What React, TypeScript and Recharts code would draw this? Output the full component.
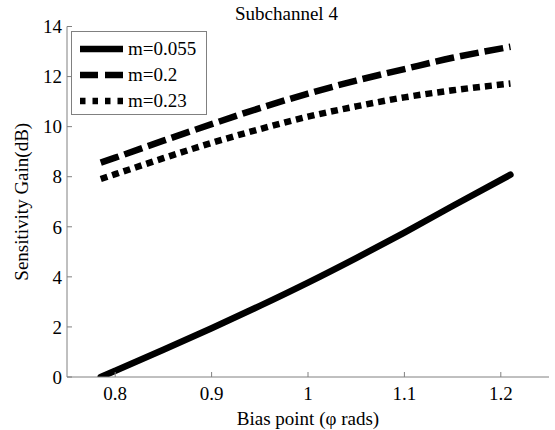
import React from 'react';
import { LineChart, Line, XAxis, YAxis, Legend, Label } from 'recharts';

// Bias point (phi, rad) and sensitivity gain (dB) per modulation index
const bias = [0.785, 0.8, 0.85, 0.9, 0.95, 1.0, 1.05, 1.1, 1.15, 1.21];
const gainM0055 = [0, 0.25, 1.09, 1.95, 2.84, 3.77, 4.75, 5.77, 6.83, 8.08];
const gainM02 = [8.56, 8.76, 9.44, 10.1, 10.74, 11.32, 11.84, 12.3, 12.75, 13.19];
const gainM023 = [7.91, 8.1, 8.74, 9.35, 9.9, 10.4, 10.81, 11.17, 11.45, 11.72];

const xTicks = [0.8, 0.9, 1, 1.1, 1.2];
const yTicks = [0, 2, 4, 6, 8, 10, 12, 14];

const rows = bias.map((b, i) => ({
  bias: b,
  m0055: gainM0055[i],
  m02: gainM02[i],
  m023: gainM023[i],
}));

const FONT = '"Liberation Serif", "Times New Roman", serif';
const AXIS_GREY = '#808080';

// line style per series, also used by the legend swatches
const seriesStyle: Record<string, { dash?: string; legendDash?: string; cap: 'round' | 'butt' }> = {
  m0055: { cap: 'round' },
  m02: { dash: '19 6', legendDash: '18 7', cap: 'butt' },
  m023: { dash: '7 5', legendDash: '5.5 7', cap: 'butt' },
};

const renderLegend = (props: any) => {
  const payload = props.payload || [];
  return (
    <div
      style={{
        boxSizing: 'border-box',
        width: 136,
        height: 84,
        border: `1px solid ${AXIS_GREY}`,
        background: '#fff',
        padding: '4px 0 0 8px',
        fontFamily: FONT,
        fontSize: 19,
        color: '#000',
      }}
    >
      {payload.map((entry: any) => {
        const st = seriesStyle[entry.dataKey] || { cap: 'butt' };
        return (
          <div key={entry.dataKey} style={{ display: 'flex', alignItems: 'center', height: 26, lineHeight: '26px' }}>
            <svg width={43} height={26} style={{ display: 'block' }}>
              <line
                x1={0}
                x2={43}
                y1={13}
                y2={13}
                stroke="#000"
                strokeWidth={6.5}
                strokeDasharray={st.legendDash}
              />
            </svg>
            <span style={{ marginLeft: 5 }}>{entry.value}</span>
          </div>
        );
      })}
    </div>
  );
};

export default function App() {
  const tickStyle = { fill: '#000', fontSize: 19, fontFamily: FONT };
  return (
    <div style={{ position: 'relative', width: 555, height: 430, background: '#fff' }}>
      <style>{'body{margin:0;}'}</style>
      <div
        style={{
          position: 'absolute',
          left: 235,
          top: 2,
          fontFamily: FONT,
          fontSize: 19,
          lineHeight: '23px',
          color: '#000',
          whiteSpace: 'nowrap',
        }}
      >
        Subchannel 4
      </div>
      <LineChart width={555} height={430} data={rows} margin={{ top: 26.5, right: 6, bottom: 0, left: 0 }}>
        <XAxis
          dataKey="bias"
          type="number"
          domain={[0.75, 1.25]}
          ticks={xTicks}
          height={53}
          tickSize={-5}
          tickMargin={14.5}
          stroke={AXIS_GREY}
          tick={tickStyle}
          allowDataOverflow
        >
          <Label
            value="Bias point (φ rads)"
            position="insideBottom"
            offset={5}
            style={{ fill: '#000', fontSize: 19, fontFamily: FONT }}
          />
        </XAxis>
        <XAxis
          xAxisId="top"
          orientation="top"
          type="number"
          domain={[0.75, 1.25]}
          ticks={xTicks}
          height={0}
          tickSize={-5}
          tick={false}
          stroke={AXIS_GREY}
        />
        <YAxis
          type="number"
          domain={[0, 14]}
          ticks={yTicks}
          width={67}
          tickSize={-5}
          tickMargin={10}
          stroke={AXIS_GREY}
          tick={tickStyle}
          allowDataOverflow
        >
          <Label
            value="Sensitivity Gain(dB)"
            angle={-90}
            position="insideLeft"
            offset={26}
            dx={-5}
            style={{ fill: '#000', fontSize: 19, fontFamily: FONT, textAnchor: 'middle' }}
          />
        </YAxis>
        <YAxis
          yAxisId="right"
          orientation="right"
          type="number"
          domain={[0, 14]}
          ticks={yTicks}
          width={0}
          tickSize={-5}
          tick={false}
          stroke={AXIS_GREY}
        />
        <Legend
          layout="horizontal"
          verticalAlign="middle"
          align="center"
          content={renderLegend}
          wrapperStyle={{ left: 71, top: 31, width: 136, height: 84 }}
        />
        <Line
          dataKey="m0055"
          name="m=0.055"
          type="monotone"
          stroke="#000"
          strokeWidth={6.5}
          strokeLinecap={seriesStyle.m0055.cap}
          dot={false}
          activeDot={false}
          isAnimationActive={false}
        />
        <Line
          dataKey="m02"
          name="m=0.2"
          type="monotone"
          stroke="#000"
          strokeWidth={6.5}
          strokeDasharray={seriesStyle.m02.dash}
          strokeLinecap={seriesStyle.m02.cap}
          dot={false}
          activeDot={false}
          isAnimationActive={false}
        />
        <Line
          dataKey="m023"
          name="m=0.23"
          type="monotone"
          stroke="#000"
          strokeWidth={6.5}
          strokeDasharray={seriesStyle.m023.dash}
          strokeLinecap={seriesStyle.m023.cap}
          dot={false}
          activeDot={false}
          isAnimationActive={false}
        />
      </LineChart>
    </div>
  );
}
